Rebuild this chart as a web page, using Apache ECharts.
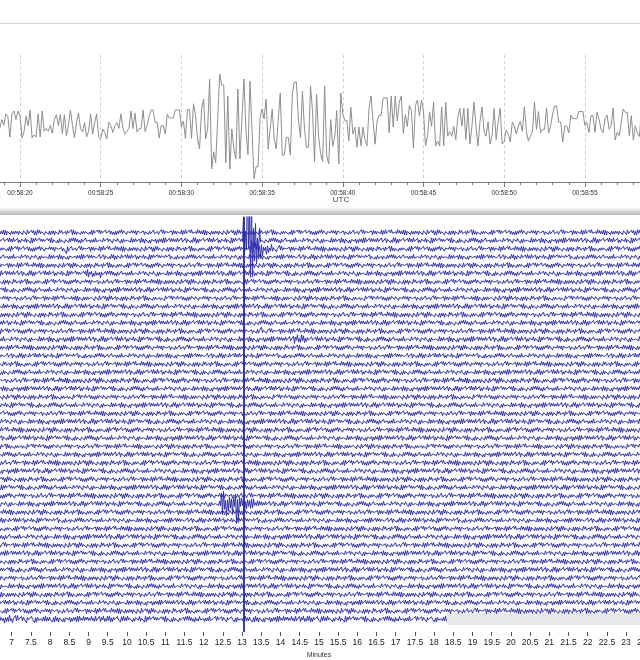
<!DOCTYPE html>
<html>
<head>
<meta charset="utf-8">
<title>Helicorder</title>
<script src="https://cdn.jsdelivr.net/npm/echarts@6/dist/echarts.min.js"></script>
<style>
html, body { margin: 0; padding: 0; background: #fff; }
#chart { width: 640px; height: 660px; }
</style>
</head>
<body>
<div id="chart"></div>
<script>
// ---- top trace (zoomed window, seconds after 00:58) ----
const topFirstSec = 18;
// half amplitude of the grey trace, one value per second (18 .. 58)
const topEnv = [13, 13, 14, 13, 12, 14, 13, 15, 13, 14, 14, 18, 26, 45, 50, 45, 55, 45, 40, 42,
  38, 40, 30, 28, 26, 28, 24, 22, 22, 20, 22, 20, 18, 22, 16, 18, 16, 15, 16, 15, 16];
const topTicks = [20, 25, 30, 35, 40, 45, 50, 55];

// ---- helicorder ----
const heliLines = 48;
const lastLineEnd = 18.34;      // minutes, last line stops here
const cursorMinute = 13.03;
// noise half amplitude of every line (px)
const baseNoise = [2.6, 2.7, 2.6, 2.5, 2.6, 2.7, 2.6, 2.6, 2.5, 2.6, 2.7, 2.6, 2.6, 2.7, 2.6, 2.5,
  2.6, 2.6, 2.7, 2.6, 2.5, 2.6, 2.6, 2.7, 2.6, 2.6, 2.5, 2.6, 2.7, 2.6, 2.6, 2.6,
  2.7, 2.6, 2.6, 2.5, 2.6, 2.7, 2.6, 2.6, 2.6, 2.7, 2.6, 2.6, 2.7, 2.6, 2.7, 3.0];
// events: line, start minute, envelope every 0.05 min
const eventLine = [1, 2, 2, 5, 12, 13, 33, 47];
const eventStart = [13.02, 13.2, 8.38, 8.9, 13.38, 14.3, 12.45, 6.5];
const eventEnv = [
  [48, 46, 72, 46, 44, 40, 34, 26, 18],
  [14, 12, 12, 11, 10, 9, 8, 8, 7, 6, 6, 5, 5, 4, 4, 3.5, 3],
  [6, 4],
  [3, 4, 5, 4, 4, 3, 3, 4, 5, 4, 3],
  [3.5, 4.5, 4.5, 3.5, 3.5],
  [3.5, 4.5, 4.5, 3.5, 4.5, 3.5, 3.5],
  [22, 18, 12, 8, 7, 10, 17, 25, 22, 16, 12, 9, 8, 7, 6, 5, 5, 4, 4, 3.5, 3.5, 3, 3],
  [5, 5, 4, 5, 4, 4, 5, 4, 4, 3.5, 4, 4, 3.5, 4, 3.5, 3.5, 3.5, 4, 3.5, 3.5, 3.5, 3.5, 3.5, 3.5, 3.5, 3.5, 3.5]
];
// hand typed wiggle digits, reused for both panels
const wiggle = '31415926535897932384626433832795028841971693993751058209749445923078164062862089986280348253421170679821480865132823066470938446095505822317253594081284811174502841027019385211055596446229489549303819';

// layout (px)
const heliTop = 217, heliBottom = 632;
const lineTop = 232.3, lineGap = 8.23;
const pxPerMin = 38.4, heliMin = 6.5, heliMax = 23.5;
const topPxPerSec = 16.14;

const blue = '#3030b0';

// top trace data, one sample every 2 px
const topData = [];
for (let i = 0, t = 18.5; t <= 58.5; t += 0.125, i++) {
  const env = topEnv[Math.min(topEnv.length - 1, Math.floor(t) - topFirstSec)];
  const d = wiggle.charCodeAt((i * 3 + 11) % wiggle.length) - 48;
  topData.push([t, env * (d - 4.5) / 4.5]);
}

const series = [{
  type: 'line', xAxisIndex: 0, yAxisIndex: 0, data: topData, symbol: 'none',
  lineStyle: { color: '#8e8e8e', width: 1 }, silent: true, animation: false
}];

// helicorder lines, one sample per px, swinging above and below the line
for (let k = 0; k < heliLines; k++) {
  const yc = lineTop + k * lineGap;
  const end = k === heliLines - 1 ? lastLineEnd : heliMax;
  const pts = [];
  let i = 0;
  for (let t = heliMin; t <= end; t += 1 / pxPerMin, i++) {
    let amp = baseNoise[k];
    for (let e = 0; e < eventLine.length; e++) {
      if (eventLine[e] !== k) continue;
      const j = Math.floor((t - eventStart[e]) / 0.05);
      if (j >= 0 && j < eventEnv[e].length) amp = Math.max(amp, eventEnv[e][j]);
    }
    const d = wiggle.charCodeAt((i + k * 41) % wiggle.length) - 48;
    const side = i % 2 === 0 ? 1 : -1;
    pts.push([t, yc + side * amp * (d + 1) / 10]);
  }
  const s = {
    type: 'line', xAxisIndex: 1, yAxisIndex: 1, data: pts, symbol: 'none',
    lineStyle: { color: blue, width: 1 }, silent: true, animation: false
  };
  if (k === 0) {
    s.markLine = {
      symbol: 'none', silent: true, label: { show: false },
      lineStyle: { color: '#2a2a96', width: 1.8, type: 'solid' },
      data: [{ xAxis: cursorMinute }]
    };
  }
  if (k === heliLines - 1) {
    s.markArea = {
      silent: true, itemStyle: { color: '#e8e8e8' },
      data: [[{ xAxis: lastLineEnd, yAxis: yc - 6 }, { xAxis: heliMax, yAxis: yc + 6 }]]
    };
  }
  series.push(s);
}

const chart = echarts.init(document.getElementById('chart'));
const font = '"Liberation Sans", Arial, sans-serif';

chart.setOption({
  animation: false,
  backgroundColor: '#fff',
  textStyle: { fontFamily: font },
  grid: [
    { left: 20 - 5 * topPxPerSec, width: 45 * topPxPerSec, top: 55, height: 127, outerBoundsMode: 'none' },
    { left: 11.7 - 0.5 * pxPerMin, width: 17 * pxPerMin, top: heliTop, height: heliBottom - heliTop, outerBoundsMode: 'none' }
  ],
  xAxis: [
    {
      gridIndex: 0, type: 'value', min: 15, max: 60, interval: 5,
      axisLine: { onZero: false, lineStyle: { color: '#7a7a7a' } },
      axisTick: { length: 5, lineStyle: { color: '#7a7a7a' } },
      minorTick: { show: true, splitNumber: 5, length: 3, lineStyle: { color: '#7a7a7a' } },
      splitLine: { show: true, lineStyle: { color: '#cfcfcf', type: [3, 3] } },
      axisLabel: {
        fontSize: 6.5, color: '#333', margin: 8,
        formatter: v => topTicks.indexOf(v) >= 0 ? '00:58:' + String(v).padStart(2, '0') : ''
      }
    },
    {
      gridIndex: 1, type: 'value', min: heliMin, max: heliMax, interval: 0.5,
      axisLine: { show: false, onZero: false },
      axisTick: { show: true, length: 4, lineStyle: { color: '#555' } },
      splitLine: { show: false },
      axisLabel: { fontSize: 8.5, color: '#222', margin: 6 },
      name: 'Minutes', nameLocation: 'middle', nameGap: 20,
      nameTextStyle: { fontSize: 7, color: '#333' }
    }
  ],
  yAxis: [
    { gridIndex: 0, type: 'value', min: -58, max: 69, show: false },
    { gridIndex: 1, type: 'value', min: heliTop, max: heliBottom, inverse: true, show: false }
  ],
  graphic: [
    { type: 'line', silent: true, shape: { x1: 0, y1: 23.5, x2: 640, y2: 23.5 }, style: { stroke: '#c9d6df', lineWidth: 1 } },
    {
      type: 'rect', silent: true, shape: { x: 0, y: 207, width: 640, height: 8 },
      style: {
        fill: new echarts.graphic.LinearGradient(0, 0, 0, 1, [
          { offset: 0, color: '#ffffff' },
          { offset: 1, color: '#b8b8b8' }
        ])
      }
    },
    { type: 'text', silent: true, x: 341, y: 200, style: { text: 'UTC', fontSize: 8, fill: '#444', align: 'center', verticalAlign: 'middle', fontFamily: font } }
  ],
  series: series
});
</script>
</body>
</html>
